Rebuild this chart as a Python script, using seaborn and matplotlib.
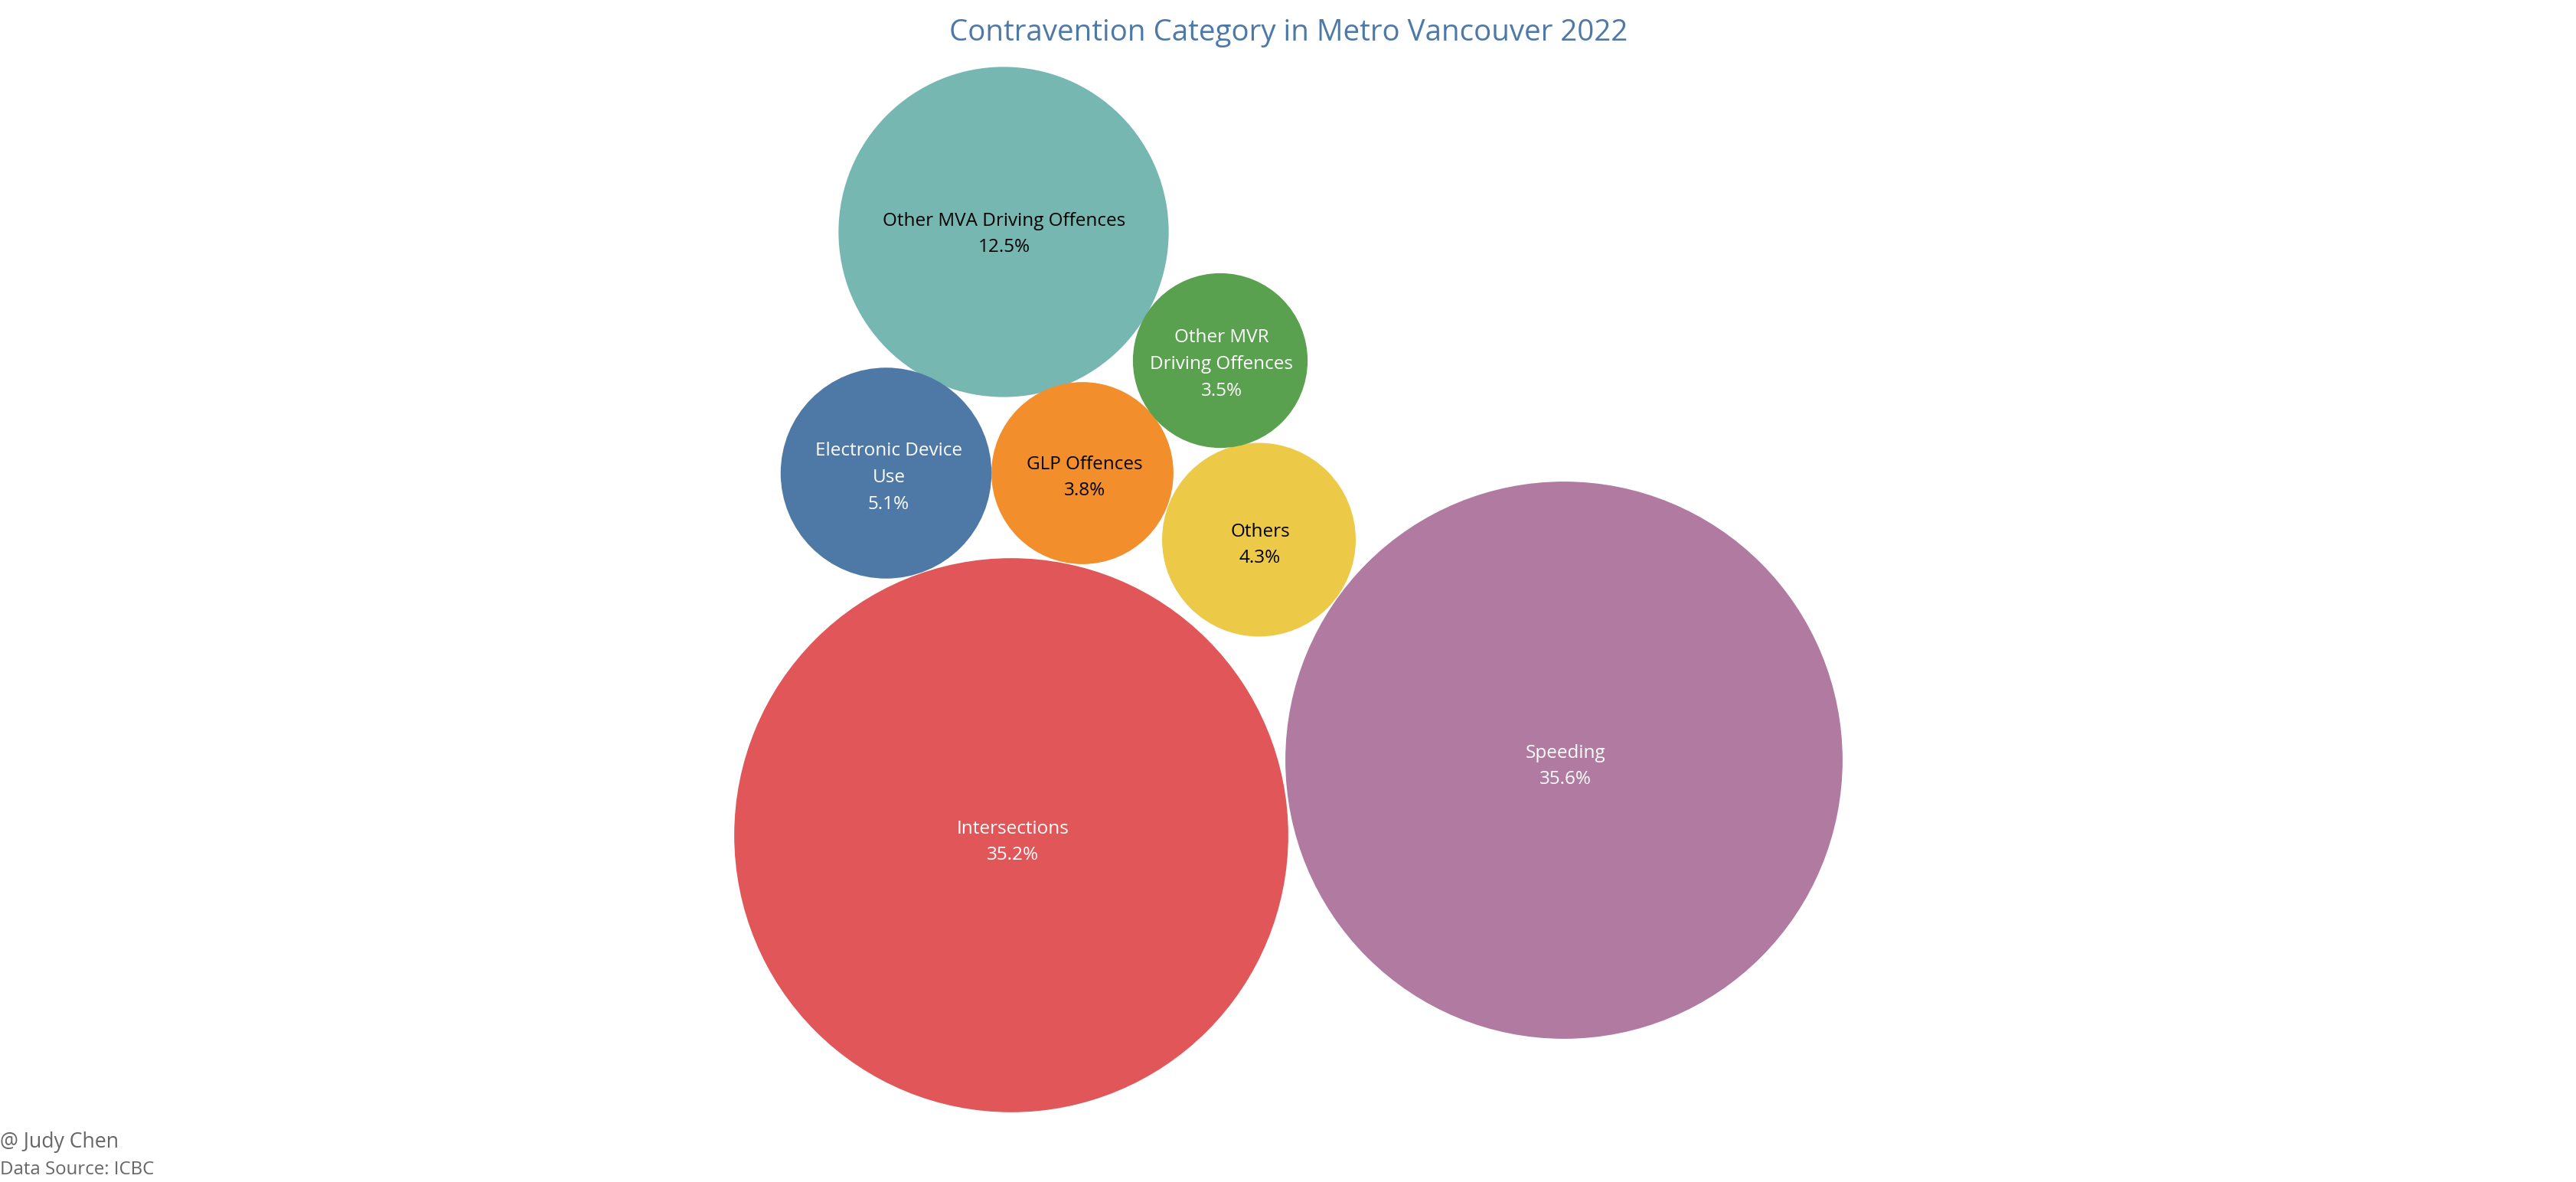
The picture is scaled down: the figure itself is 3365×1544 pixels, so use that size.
import matplotlib
matplotlib.use("Agg")
import matplotlib.pyplot as plt
import pandas as pd
import seaborn as sns

categories = ["Speeding", "Intersections", "Other MVA Driving Offences", "Electronic Device Use",
              "Others", "GLP Offences", "Other MVR Driving Offences"]
labels = ["Speeding", "Intersections", "Other MVA Driving Offences", "Electronic Device\nUse",
          "Others", "GLP Offences", "Other MVR\nDriving Offences"]
shares = [35.6, 35.2, 12.5, 5.1, 4.3, 3.8, 3.5]
pack_x = [2043, 1321, 1311, 1157.5, 1644.5, 1414, 1594]
pack_y = [993, 1091, 303, 618, 705, 618, 471]
label_x = [2045, 1323, 1312, 1161, 1646, 1417, 1596]
label_y = [1001, 1100, 306, 624, 712, 624, 476]
colours = ["#B07AA1", "#E15759", "#76B7B2", "#4E79A7", "#EDC948", "#F28E2B", "#59A14F"]
text_colours = ["white", "white", "black", "white", "black", "black", "white"]

sns.set_theme(style="white")
plt.rcParams["font.family"] = ["Open Sans", "DejaVu Sans"]

W, H, DPI = 3366, 1544, 100
fig = plt.figure(figsize=(W / DPI, H / DPI), dpi=DPI, facecolor="white")
ax = fig.add_axes([0, 0, 1, 1])

df = pd.DataFrame({"category": categories, "share": shares, "x": pack_x, "y": pack_y})
sns.scatterplot(data=df, x="x", y="y", hue="category", palette=dict(zip(categories, colours)),
                size="share", size_norm=(0, 100), sizes=(0, 771400),
                linewidth=0, alpha=1, legend=False, ax=ax, clip_on=False)

ax.set_xlim(0, W)
ax.set_ylim(H, 0)
ax.axis("off")

for lab, s, x, y, c in zip(labels, shares, label_x, label_y, text_colours):
    ax.text(x, y, f"{lab}\n{s:.1f}%", color=c, ha="center", va="center", fontsize=17.5,
            linespacing=1.6, multialignment="center")

ax.text(1683, 43, "Contravention Category in Metro Vancouver 2022", color="#4E79A7",
        ha="center", va="center", fontsize=27.7)
ax.text(0, 1492, "@ Judy Chen", color="#666666", ha="left", va="center", fontsize=19.2)
ax.text(0, 1528, "Data Source: ICBC", color="#666666", ha="left", va="center", fontsize=17.3)

fig.savefig("out.png", dpi=DPI, facecolor="white")
